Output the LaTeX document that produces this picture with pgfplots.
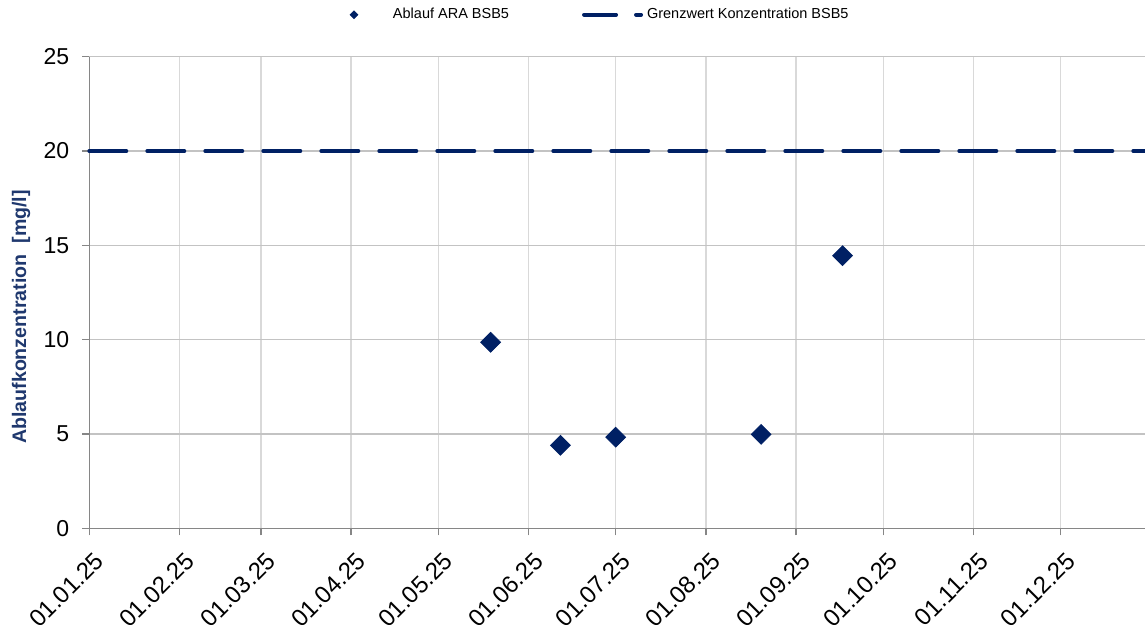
\documentclass[border=0pt]{standalone}
\usepackage{pgfplots}
\pgfplotsset{compat=1.18}
\usepackage{fontspec}
\setmainfont{Liberation Sans}
\definecolor{navy}{RGB}{0,32,100}
\definecolor{ylab}{RGB}{31,56,110}
\definecolor{gridh}{RGB}{195,195,195}
\definecolor{gridv}{RGB}{217,217,217}
\definecolor{axgray}{RGB}{134,134,134}
\begin{document}
\begin{tikzpicture}
\begin{axis}[
  name=ax,
  scale only axis,
  width=527.85pt, height=235.8pt,
  xmin=0, xmax=363, ymin=0, ymax=25,
  axis x line*=bottom, axis y line*=left,
  axis line style={axgray, line width=0.75pt, -},
  xtick={0,31,59,90,120,151,181,212,243,273,304,334},
  xticklabels={01.01.25,01.02.25,01.03.25,01.04.25,01.05.25,01.06.25,01.07.25,01.08.25,01.09.25,01.10.25,01.11.25,01.12.25},
  ytick={0,5,10,15,20,25},
  grid=major,
  x grid style={gridv, line width=0.75pt},
  y grid style={gridh, line width=0.75pt},
  tick align=outside,
  major tick length=3.5pt,
  tick style={axgray, line width=0.75pt},
  /pgf/number format/assume math mode=true,
  ticklabel style={font=\fontsize{11.5}{13}\selectfont, black},
  xticklabel style={rotate=45, anchor=north east, xshift=-0.5pt, yshift=-3.5pt, font=\fontsize{12}{13}\selectfont},
  yticklabel style={xshift=-3pt},
  ylabel={Ablaufkonzentration\ \ [mg/l]},
  ylabel style={at={(axis description cs:-0.0645,0.448)}, anchor=center, rotate=0, font=\bfseries\fontsize{9.8}{12}\selectfont, ylab},
  legend columns=2,
  legend style={draw=none, fill=none, at={(axis description cs:0.475,1.089)}, anchor=center,
    font=\fontsize{7.25}{9}\selectfont,
    /tikz/every even column/.append style={column sep=34.5pt}},
  clip=false,
]
\addlegendimage{legend image code/.code={
    \path[draw=none, fill=none] (0pt,0pt) -- (30pt,0pt);
    \fill[navy] (12.5pt,1.9pt) -- (14.4pt,0pt) -- (12.5pt,-1.9pt) -- (10.6pt,0pt) -- cycle;
  }}
\addlegendentry{Ablauf ARA BSB5}
\addlegendimage{legend image code/.code={
    \draw[navy, line width=2pt, line cap=round, dash pattern=on 16pt off 10pt] (1pt,0pt) -- (29.5pt,0pt);
  }}
\addlegendentry{Grenzwert Konzentration BSB5}
\addplot[forget plot, only marks, mark=square*, mark size=3.5pt, mark options={rotate=45, fill=navy, draw=navy}]
  coordinates {(138,9.86) (162,4.40) (181,4.83) (231,4.98) (259,14.45)};
\addplot[forget plot, navy, line width=2pt, line cap=round, dash pattern=on 18.5pt off 10.5pt]
  coordinates {(0,20) (363,20)};
\end{axis}
\pgfresetboundingbox
\path[use as bounding box] ([xshift=-44.65pt,yshift=-48.35pt]ax.south west) rectangle ([yshift=28.35pt]ax.north east);
\end{tikzpicture}
\end{document}
